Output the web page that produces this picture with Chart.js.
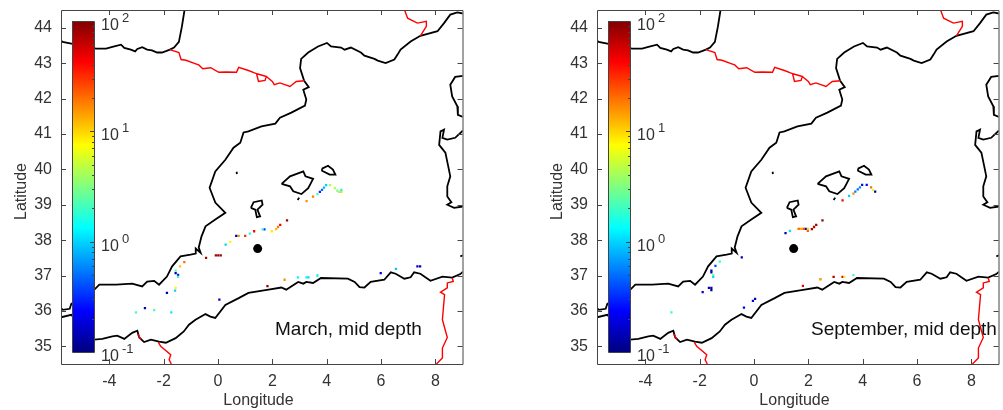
<!DOCTYPE html>
<html>
<head>
<meta charset="utf-8">
<script src="https://cdn.jsdelivr.net/npm/chart.js@4"></script>
<style>
  html, body { margin: 0; background: #fff; }
  canvas { position: absolute; top: 0; }
  #march { left: 0; }
  #september { left: 536px; }
</style>
</head>
<body>
<canvas id="march" width="467" height="410"></canvas>
<canvas id="september" width="467" height="410"></canvas>
<script>
// axis ticks
const lonTicks = [-4, -2, 0, 2, 4, 6, 8];
const latTicks = [35, 36, 37, 38, 39, 40, 41, 42, 43, 44];
const colorbarExponents = [-1, 0, 1, 2];

// coast lines, [lon, lat]
const franceAtlantic = [[-1.23,44.51],[-1.33,44.03],[-1.44,43.60],[-1.62,43.44],[-1.77,43.38]];
const northSpain = [[-1.77,43.38],[-2.06,43.30],[-2.24,43.30],[-2.43,43.36],[-2.61,43.38],[-2.79,43.45],[-2.97,43.40],[-3.05,43.33],[-3.21,43.38],[-3.45,43.43],[-3.57,43.52],[-3.82,43.47],[-4.12,43.41],[-4.49,43.41],[-5.40,43.55],[-5.72,43.60],[-5.78,43.63]];
const franceMed = [[3.17,42.50],[3.02,42.86],[3.06,43.12],[3.32,43.30],[3.68,43.47],[4.01,43.57],[4.16,43.47],[4.53,43.44],[4.66,43.38],[4.89,43.44],[5.26,43.30],[5.39,43.21],[5.76,43.12],[5.88,43.07],[6.17,43.00],[6.49,43.10],[6.61,43.24],[6.72,43.38],[7.09,43.61],[7.45,43.77],[8.08,43.90],[8.32,44.13],[8.55,44.37],[8.81,44.43],[9.02,44.40]];
const eastSpain = [[3.17,42.50],[3.34,42.32],[3.14,42.25],[3.25,41.97],[3.20,41.80],[2.70,41.60],[2.28,41.46],[2.11,41.29],[1.60,41.21],[1.12,41.07],[0.94,41.04],[0.82,40.75],[0.57,40.61],[0.27,40.27],[-0.10,39.94],[-0.31,39.48],[-0.10,39.06],[0.27,38.77],[-0.10,38.58],[-0.46,38.39],[-0.61,38.10],[-0.71,37.79],[-0.64,37.64],[-0.82,37.76],[-0.82,37.62],[-1.01,37.59],[-1.38,37.54],[-1.69,37.26],[-1.88,36.97],[-2.17,36.74],[-2.35,36.85],[-2.61,36.83],[-2.79,36.69],[-3.16,36.77],[-3.75,36.74],[-4.37,36.74],[-4.55,36.60],[-5.40,36.20],[-5.46,36.06],[-5.71,36.03],[-5.78,36.08]];
const northAfrica = [[-5.78,35.82],[-5.40,35.89],[-4.55,35.19],[-4.26,35.21],[-3.89,35.28],[-3.71,35.30],[-3.45,35.21],[-3.16,35.38],[-2.97,35.44],[-2.90,35.25],[-2.72,35.12],[-2.47,35.19],[-2.17,35.13],[-1.92,35.10],[-1.56,35.23],[-1.26,35.42],[-1.07,35.61],[-0.83,35.75],[-0.46,35.91],[-0.28,35.84],[-0.10,35.80],[0.27,36.17],[0.76,36.36],[1.12,36.51],[1.86,36.60],[2.33,36.66],[2.51,36.60],[2.95,36.82],[3.14,36.77],[3.25,36.82],[3.50,36.79],[3.79,36.93],[4.78,36.91],[5.03,36.82],[5.21,36.67],[5.39,36.66],[5.62,36.82],[6.12,36.88],[6.36,37.09],[6.54,37.05],[6.86,36.91],[7.09,36.95],[7.22,37.09],[7.45,37.05],[7.82,36.85],[8.26,36.97],[8.62,36.94],[8.92,37.04],[9.02,37.11]];
const corsica = [[9.02,42.64],[8.73,42.61],[8.55,42.39],[8.62,42.06],[8.81,41.78],[8.83,41.54],[9.02,41.48]];
const sardinia = [[9.02,41.10],[8.73,40.89],[8.44,40.84],[8.26,40.89],[8.32,41.12],[8.19,41.07],[8.14,40.69],[8.37,40.47],[8.50,39.99],[8.55,39.80],[8.44,39.52],[8.44,39.23],[8.59,39.07],[8.44,39.00],[8.69,38.91],[9.02,38.95]];
const capeBon = [[8.92,37.54],[9.02,37.57]];
const mallorca = [[2.34,39.59],[2.65,39.80],[3.14,39.94],[3.22,39.80],[3.50,39.73],[3.32,39.47],[3.07,39.30],[2.77,39.38],[2.65,39.52],[2.34,39.59]];
const menorca = [[3.83,40.02],[4.05,40.10],[4.23,39.99],[4.32,39.85],[4.11,39.85],[3.83,39.96],[3.83,40.02]];
const ibiza = [[1.21,38.91],[1.31,39.07],[1.61,39.12],[1.64,39.00],[1.45,38.86],[1.55,38.67],[1.43,38.65],[1.37,38.86],[1.21,38.91]];
const cabrera = [[2.93,39.13],[2.99,39.20]];
const columbretes = [[0.68,39.93],[0.70,39.87]];

// borders
const pyreneesWest = [[-1.77,43.38],[-1.44,43.30],[-1.36,43.10],[-1.18,43.08],[-0.82,42.98],[-0.71,42.95],[-0.56,42.84],[-0.27,42.87],[0.03,42.74],[0.28,42.75],[0.68,42.74],[0.76,42.88],[1.12,42.79],[1.42,42.70],[1.49,42.48],[1.73,42.51],[1.78,42.62],[1.56,42.67],[1.42,42.70]];
const pyreneesEast = [[1.78,42.62],[2.00,42.48],[2.07,42.39],[2.28,42.44],[2.65,42.34],[2.88,42.48],[3.17,42.50]];
const alps = [[7.45,43.77],[7.67,44.04],[7.67,44.18],[7.34,44.13],[6.98,44.27],[6.87,44.49]];
const melilla = [[-2.96,35.35],[-2.84,35.19]];
const moroccoAlgeria = [[-2.20,35.12],[-2.11,35.00],[-1.74,34.76],[-1.80,34.62],[-1.72,34.50]];
const algeriaTunisia = [[8.62,36.94],[8.66,36.83],[8.44,36.79],[8.44,36.65],[8.19,36.53],[8.34,36.46],[8.26,35.75],[8.44,35.25],[8.26,34.95],[8.26,34.67],[8.04,34.50]];

const coastLines = [franceAtlantic, northSpain, franceMed, eastSpain, northAfrica, corsica, sardinia, capeBon, mallorca, menorca, ibiza, cabrera, columbretes];
const borderLines = [pyreneesWest, pyreneesEast, alps, melilla, moroccoAlgeria, algeriaTunisia];

// mooring position
const stationLon = [1.46];
const stationLat = [37.76];

// March samples
const marchLon = [3.26,3.50,3.66,3.75,3.83,3.90,3.98,4.13,4.30,4.39,4.54,4.46,4.54,2.54,2.29,2.21,2.14,1.98,1.71,1.64,1.33,1.17,1.00,0.76,0.67,0.45,0.28,-0.08,0.01,0.10,-0.44,-1.24,-1.40,-1.56,-1.56,-1.47,-1.47,-1.56,-1.58,-1.88,-2.69,-2.35,-1.72,-3.02,0.05,1.82,2.45,2.94,3.26,3.33,3.66,5.99,6.55,7.34,7.44];
const marchLat = [39.10,39.23,39.30,39.36,39.42,39.48,39.55,39.55,39.47,39.40,39.42,39.36,39.36,38.56,38.43,38.37,38.31,38.25,38.30,38.30,38.25,38.18,38.12,38.12,38.12,37.95,37.87,37.57,37.57,37.57,37.50,37.38,37.26,37.14,37.07,37.02,36.96,36.65,36.57,36.51,36.08,36.02,35.96,35.96,36.32,36.70,36.88,36.95,36.95,36.95,37.00,37.07,37.19,37.26,37.26];
const marchVal = [16,18,2,0.3,0.5,0.8,1,4.5,4.5,3.2,1.3,3.2,10,80,45,18,12,8.5,0.35,1.9,40,1.6,32,16,0.14,8,1,80,85,80,75,20,11,2.4,0.14,0.3,2,8,1,0.13,0.15,2.2,1.2,2,0.16,85,16,1.3,1.2,1.1,1.2,0.2,0.9,0.14,0.14];

// September samples
const septLon = [3.26,3.50,3.66,3.73,3.82,3.90,3.98,4.15,4.31,4.38,4.46,2.52,2.29,2.21,2.13,1.98,1.98,1.90,1.83,1.76,1.68,1.64,1.32,1.16,-0.45,-1.26,-1.42,-1.57,-1.57,-1.50,-1.50,-1.57,-1.66,-1.57,-1.89,0.04,-0.04,-0.37,1.80,2.44,-3.04,2.45,2.93,3.26,3.33,3.66];
const septLat = [39.12,39.25,39.31,39.37,39.43,39.49,39.56,39.56,39.49,39.42,39.37,38.56,38.43,38.37,38.31,38.26,38.32,38.32,38.32,38.32,38.32,38.32,38.26,38.20,37.51,37.39,37.27,37.14,37.09,37.02,36.96,36.65,36.65,36.59,36.53,36.34,36.28,36.09,36.71,36.89,35.96,36.90,36.96,36.96,36.96,37.01];
const septVal = [42,1,16,0.55,0.5,0.6,0.25,0.25,20,6,0.13,85,75,70,75,22,10,0.2,25,14,15,20,1.1,0.15,0.14,1.7,0.4,0.15,0.14,3,1,0.13,0.14,0.13,0.16,0.15,0.18,0.2,45,14,1.9,14,75,45,5.5,2];

const textColor = '#333';
const axisColor = '#444';
const fontFamily = '"Liberation Sans"';

// jet colormap, t in 0..1
const jet = (t) => {
  const ch = (v) => Math.round(255 * Math.max(0, Math.min(1, v)));
  const r = 1.5 - Math.abs(4 * t - 3);
  const g = 1.5 - Math.abs(4 * t - 2);
  const b = 1.5 - Math.abs(4 * t - 1);
  return `rgb(${ch(r)},${ch(g)},${ch(b)})`;
};
const valueColor = (v) => jet((Math.log10(v) + 1) / 3);

const toPoints = (line) => line.map(([x, y]) => ({ x, y }));
const zip = (xs, ys) => xs.map((x, i) => ({ x, y: ys[i] }));

// inward ticks and the box round the plot
const frame = {
  id: 'frame',
  afterDatasetsDraw(chart) {
    const { ctx, chartArea: a, scales } = chart;
    ctx.save();
    ctx.strokeStyle = axisColor;
    ctx.lineWidth = 1;
    ctx.beginPath();
    ctx.rect(a.left + 0.5, a.top + 0.5, a.right - a.left, a.bottom - a.top);
    lonTicks.forEach((t) => {
      const x = Math.round(scales.x.getPixelForValue(t)) + 0.5;
      ctx.moveTo(x, a.top);
      ctx.lineTo(x, a.top + 5);
      ctx.moveTo(x, a.bottom);
      ctx.lineTo(x, a.bottom - 5);
    });
    latTicks.forEach((t) => {
      const y = Math.round(scales.y.getPixelForValue(t)) + 0.5;
      ctx.moveTo(a.left, y);
      ctx.lineTo(a.left + 5, y);
      ctx.moveTo(a.right, y);
      ctx.lineTo(a.right - 5, y);
    });
    ctx.stroke();
    ctx.restore();
  },
};

// log colour bar inside the axes
const colorbar = {
  id: 'colorbar',
  afterDatasetsDraw(chart) {
    const { ctx } = chart;
    const left = 72, right = 94, top = 21, bottom = 352;
    const lo = colorbarExponents[0];
    const hi = colorbarExponents[colorbarExponents.length - 1];
    const yOf = (e) => bottom - ((e - lo) / (hi - lo)) * (bottom - top);
    ctx.save();
    const grad = ctx.createLinearGradient(0, bottom, 0, top);
    for (let i = 0; i <= 32; i++) grad.addColorStop(i / 32, jet(i / 32));
    ctx.fillStyle = grad;
    ctx.fillRect(left, top, right - left, bottom - top);
    ctx.strokeStyle = axisColor;
    ctx.lineWidth = 1;
    ctx.beginPath();
    ctx.rect(left + 0.5, top + 0.5, right - left, bottom - top);
    colorbarExponents.forEach((e) => {
      const y = Math.round(yOf(e)) + 0.5;
      ctx.moveTo(right, y);
      ctx.lineTo(right - 4, y);
      if (e === hi) return;
      for (let m = 2; m < 10; m++) {
        const my = Math.round(yOf(e + Math.log10(m))) + 0.5;
        ctx.moveTo(right, my);
        ctx.lineTo(right - 2, my);
      }
    });
    ctx.stroke();
    ctx.fillStyle = textColor;
    ctx.textAlign = 'left';
    ctx.textBaseline = 'alphabetic';
    colorbarExponents.forEach((e) => {
      const y = yOf(e);
      ctx.font = `16px ${fontFamily}`;
      ctx.fillText('10', 101, y + 9);
      ctx.font = `13px ${fontFamily}`;
      ctx.fillText(String(e), 122, y + 1);
    });
    ctx.restore();
  },
};

// month caption and the two axis names, which sit off centre in the original
const labels = {
  id: 'labels',
  afterDatasetsDraw(chart) {
    const { ctx } = chart;
    ctx.save();
    ctx.textBaseline = 'alphabetic';
    ctx.fillStyle = '#111';
    ctx.font = `19px ${fontFamily}`;
    ctx.textAlign = 'left';
    ctx.fillText(chart.options.plugins.labels.caption, 275, 335);
    ctx.fillStyle = textColor;
    ctx.font = `16px ${fontFamily}`;
    ctx.textAlign = 'center';
    ctx.fillText('Longitude', 258.5, 405);
    ctx.translate(26, 191.5);
    ctx.rotate(-Math.PI / 2);
    ctx.fillText('Latitude', 0, 0);
    ctx.restore();
  },
};

const drawPanel = (id, caption, lons, lats, vals) => {
  const lineSet = (line, color, width) => ({
    type: 'line',
    data: toPoints(line),
    borderColor: color,
    borderWidth: width,
    pointRadius: 0,
    tension: 0,
  });
  new Chart(document.getElementById(id), {
    type: 'scatter',
    plugins: [frame, colorbar, labels],
    data: {
      datasets: [
        ...borderLines.map((l) => lineSet(l, '#ff0000', 1.4)),
        ...coastLines.map((l) => lineSet(l, '#000000', 1.8)),
        {
          data: zip(lons, lats),
          pointStyle: 'rect',
          pointRadius: 1.6,
          pointBorderWidth: 0,
          pointBackgroundColor: vals.map(valueColor),
        },
        {
          data: zip(stationLon, stationLat),
          pointRadius: 4.5,
          pointBorderWidth: 0,
          pointBackgroundColor: '#000000',
        },
      ],
    },
    options: {
      responsive: false,
      animation: false,
      devicePixelRatio: 1,
      layout: { padding: { top: 10, right: 2, left: 0, bottom: 0 } },
      plugins: {
        legend: { display: false },
        tooltip: { enabled: false },
        labels: { caption },
      },
      scales: {
        x: {
          type: 'linear',
          min: -5.78,
          max: 9,
          grid: { display: false, drawTicks: false },
          border: { display: false },
          afterBuildTicks: (s) => { s.ticks = lonTicks.map((value) => ({ value })); },
          // fixed box so the plot area lands where the original has it
          afterFit: (s) => { s.height = 46; s.paddingLeft = 0; s.paddingRight = 0; },
          ticks: { color: textColor, font: { family: 'Liberation Sans', size: 16 }, padding: 8, maxRotation: 0, autoSkip: false },
        },
        y: {
          type: 'linear',
          min: 34.5,
          max: 44.5,
          grid: { display: false, drawTicks: false },
          border: { display: false },
          afterBuildTicks: (s) => { s.ticks = latTicks.map((value) => ({ value })); },
          afterFit: (s) => { s.width = 61; s.paddingTop = 0; s.paddingBottom = 0; },
          ticks: { color: textColor, font: { family: 'Liberation Sans', size: 16 }, padding: 9, autoSkip: false },
        },
      },
    },
  });
};

drawPanel('march', 'March, mid depth', marchLon, marchLat, marchVal);
drawPanel('september', 'September, mid depth', septLon, septLat, septVal);
</script>
</body>
</html>
